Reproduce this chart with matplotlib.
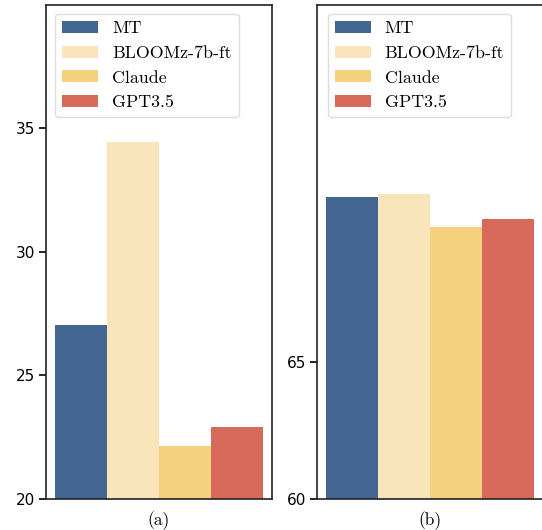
import matplotlib
matplotlib.use("Agg")
import matplotlib.pyplot as plt

models = ["MT", "BLOOMz-7b-ft", "Claude", "GPT3.5"]
colors = ["#436591", "#FAE5BB", "#F5D07E", "#D6695A"]
scores_a = [27.03, 34.45, 22.15, 22.92]
scores_b = [71.0, 71.1, 69.9, 70.2]
panel_labels = ["(a)", "(b)"]
ylims = [(20, 40), (60, 78)]
yticks = [[20, 25, 30, 35], [60, 65]]

W, H = 542, 530
fig = plt.figure(figsize=(W / 100, H / 100), dpi=100)

def rect(x0, x1, y0, y1):
    return [x0 / W, 1 - y1 / H, (x1 - x0) / W, (y1 - y0) / H]

axes = [fig.add_axes(rect(46, 272, 5, 499)), fig.add_axes(rect(317, 543, 5, 499))]
serif = "cmr10"
leg_x = [0.04, 0.048]

for ax, vals, lab, yl, yt, lx in zip(axes, [scores_a, scores_b], panel_labels, ylims, yticks, leg_x):
    xs = list(range(len(models)))
    bars = ax.bar(xs, vals, width=1.0, color=colors)
    for b, m in zip(bars, models):
        b.set_label(m)
    ax.set_xlim(-0.5 - 0.17, len(models) - 0.5 + 0.17)
    ax.set_ylim(*yl)
    ax.set_yticks(yt)
    ax.set_xticks([])
    ax.tick_params(axis="y", length=5, width=1.2, labelsize=11, pad=3)
    for s in ax.spines.values():
        s.set_linewidth(1.2)
        s.set_color("#222222")
    ax.set_xlabel(lab, fontfamily=serif, fontsize=12.5, labelpad=9)
    ax.legend(handles=list(bars), loc="upper left", bbox_to_anchor=(lx, 0.982),
              borderaxespad=0.0,
              prop={"family": serif, "size": 12.9}, handlelength=2.0,
              handleheight=0.65, labelspacing=0.52, borderpad=0.4,
              handletextpad=0.78, fancybox=True, framealpha=1.0,
              edgecolor="#dddddd")

fig.savefig("out.png", dpi=100)
